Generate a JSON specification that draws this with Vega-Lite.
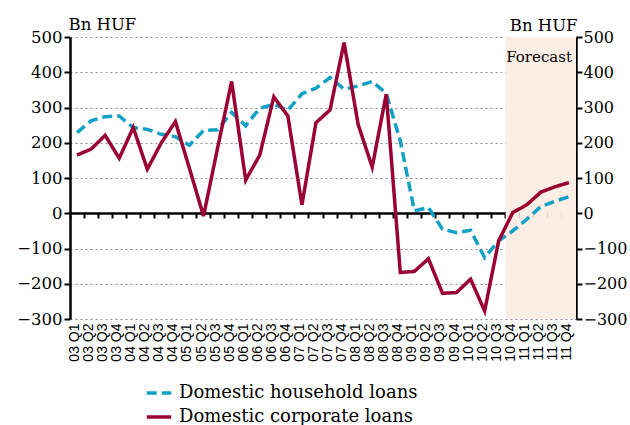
{
  "$schema": "https://vega.github.io/schema/vega-lite/v6.json",
  "width": 506,
  "height": 282,
  "autosize": {"type": "none"},
  "padding": {"left": 70, "top": 37, "right": 54, "bottom": 106},
  "background": "white",
  "config": {"view": {"stroke": null}, "font": "DejaVu Serif"},
  "datasets": {
    "loans": [
      {"q": "03 Q1", "Domestic household loans": 229, "Domestic corporate loans": 165},
      {"q": "03 Q2", "Domestic household loans": 262, "Domestic corporate loans": 182},
      {"q": "03 Q3", "Domestic household loans": 274, "Domestic corporate loans": 221},
      {"q": "03 Q4", "Domestic household loans": 276, "Domestic corporate loans": 156},
      {"q": "04 Q1", "Domestic household loans": 243, "Domestic corporate loans": 243},
      {"q": "04 Q2", "Domestic household loans": 238, "Domestic corporate loans": 125},
      {"q": "04 Q3", "Domestic household loans": 224, "Domestic corporate loans": 200},
      {"q": "04 Q4", "Domestic household loans": 217, "Domestic corporate loans": 260},
      {"q": "05 Q1", "Domestic household loans": 193, "Domestic corporate loans": 127},
      {"q": "05 Q2", "Domestic household loans": 235, "Domestic corporate loans": -8},
      {"q": "05 Q3", "Domestic household loans": 237, "Domestic corporate loans": 185},
      {"q": "05 Q4", "Domestic household loans": 286, "Domestic corporate loans": 374},
      {"q": "06 Q1", "Domestic household loans": 248, "Domestic corporate loans": 94},
      {"q": "06 Q2", "Domestic household loans": 298, "Domestic corporate loans": 165},
      {"q": "06 Q3", "Domestic household loans": 309, "Domestic corporate loans": 330},
      {"q": "06 Q4", "Domestic household loans": 292, "Domestic corporate loans": 276},
      {"q": "07 Q1", "Domestic household loans": 339, "Domestic corporate loans": 24},
      {"q": "07 Q2", "Domestic household loans": 355, "Domestic corporate loans": 257},
      {"q": "07 Q3", "Domestic household loans": 385, "Domestic corporate loans": 293},
      {"q": "07 Q4", "Domestic household loans": 352, "Domestic corporate loans": 484},
      {"q": "08 Q1", "Domestic household loans": 361, "Domestic corporate loans": 252},
      {"q": "08 Q2", "Domestic household loans": 374, "Domestic corporate loans": 131},
      {"q": "08 Q3", "Domestic household loans": 340, "Domestic corporate loans": 338},
      {"q": "08 Q4", "Domestic household loans": 205, "Domestic corporate loans": -168},
      {"q": "09 Q1", "Domestic household loans": 7, "Domestic corporate loans": -165},
      {"q": "09 Q2", "Domestic household loans": 16, "Domestic corporate loans": -129},
      {"q": "09 Q3", "Domestic household loans": -45, "Domestic corporate loans": -227},
      {"q": "09 Q4", "Domestic household loans": -55, "Domestic corporate loans": -225},
      {"q": "10 Q1", "Domestic household loans": -48, "Domestic corporate loans": -187},
      {"q": "10 Q2", "Domestic household loans": -126, "Domestic corporate loans": -277},
      {"q": "10 Q3", "Domestic household loans": -78, "Domestic corporate loans": -78},
      {"q": "10 Q4", "Domestic household loans": -50, "Domestic corporate loans": 2},
      {"q": "11 Q1", "Domestic household loans": -17, "Domestic corporate loans": 24},
      {"q": "11 Q2", "Domestic household loans": 19, "Domestic corporate loans": 60},
      {"q": "11 Q3", "Domestic household loans": 34, "Domestic corporate loans": 75},
      {"q": "11 Q4", "Domestic household loans": 47, "Domestic corporate loans": 87}
    ],
    "forecast": [
      {"q": "10 Q4"}, {"q": "11 Q1"}, {"q": "11 Q2"}, {"q": "11 Q3"}, {"q": "11 Q4"}
    ],
    "note": [
      {"q": "11 Q4", "label": "Forecast"}
    ]
  },
  "layer": [
    {
      "data": {"name": "forecast"},
      "mark": {"type": "bar", "fill": "#FCEEE4", "opacity": 1},
      "encoding": {
        "x": {
          "field": "q", "type": "ordinal",
          "scale": {
            "type": "band", "paddingInner": 0, "paddingOuter": 0,
            "domain": ["03 Q1","03 Q2","03 Q3","03 Q4","04 Q1","04 Q2","04 Q3","04 Q4","05 Q1","05 Q2","05 Q3","05 Q4","06 Q1","06 Q2","06 Q3","06 Q4","07 Q1","07 Q2","07 Q3","07 Q4","08 Q1","08 Q2","08 Q3","08 Q4","09 Q1","09 Q2","09 Q3","09 Q4","10 Q1","10 Q2","10 Q3","10 Q4","11 Q1","11 Q2","11 Q3","11 Q4"]
          },
          "axis": {
            "orient": "bottom", "title": null, "domain": false, "ticks": false, "grid": false,
            "labelAngle": 270, "labelAlign": "right", "labelBaseline": "middle",
            "labelFont": "Liberation Sans", "labelFontSize": 14, "labelColor": "black",
            "labelPadding": 4, "labelOffset": -2
          }
        },
        "y": {
          "datum": 500, "type": "quantitative",
          "scale": {"domain": [-300, 500], "nice": false, "zero": false},
          "axis": {
            "orient": "left", "values": [-300, -200, -100, 0, 100, 200, 300, 400, 500],
            "grid": true, "gridDash": [2, 3], "gridColor": "#8a8a8a", "gridWidth": 1.2,
            "domainColor": "black", "domainWidth": 2.5,
            "tickColor": "black", "tickWidth": 2, "tickSize": 6,
            "labelFont": "DejaVu Serif", "labelFontSize": 16.5, "labelColor": "black", "labelPadding": 2,
            "title": "Bn HUF", "titleAngle": 0, "titleAlign": "left", "titleBaseline": "alphabetic",
            "titleX": -2, "titleY": -8,
            "titleFont": "DejaVu Serif", "titleFontSize": 16.5, "titleFontWeight": "normal", "titleColor": "black"
          }
        },
        "y2": {"datum": -300}
      }
    },
    {
      "data": {"name": "loans"},
      "transform": [
        {"fold": ["Domestic household loans", "Domestic corporate loans"], "as": ["series", "value"]}
      ],
      "mark": {"type": "line", "strokeWidth": 3.5, "strokeJoin": "miter", "strokeCap": "butt"},
      "encoding": {
        "x": {
          "field": "q", "type": "ordinal",
          "axis": {
            "orient": "bottom", "offset": -106, "title": null, "labels": false, "grid": false,
            "domainColor": "black", "domainWidth": 2.5,
            "ticks": true, "tickColor": "black", "tickWidth": 2, "tickSize": 5, "bandPosition": 0
          }
        },
        "y": {
          "field": "value", "type": "quantitative",
          "axis": {
            "orient": "right", "values": [-300, -200, -100, 0, 100, 200, 300, 400, 500],
            "grid": false,
            "domainColor": "black", "domainWidth": 2.5,
            "tickColor": "black", "tickWidth": 2, "tickSize": 6,
            "labelFont": "DejaVu Serif", "labelFontSize": 16, "labelColor": "black", "labelPadding": 1,
            "title": "Bn HUF", "titleAngle": 0, "titleAlign": "right", "titleBaseline": "alphabetic",
            "titleX": 1, "titleY": -7,
            "titleFont": "DejaVu Serif", "titleFontSize": 16.5, "titleFontWeight": "normal", "titleColor": "black"
          }
        },
        "color": {
          "field": "series", "type": "nominal",
          "scale": {"domain": ["Domestic household loans", "Domestic corporate loans"], "range": ["#13A0C6", "#9A0032"]},
          "legend": {
            "title": null, "orient": "none", "legendX": 75, "legendY": 342, "direction": "vertical",
            "symbolType": "stroke", "symbolStrokeWidth": 3.5, "symbolSize": 600,
            "labelFont": "DejaVu Serif", "labelFontSize": 18, "labelColor": "black", "labelLimit": 500,
            "rowPadding": 1, "labelOffset": 6
          }
        },
        "strokeDash": {
          "field": "series", "type": "nominal",
          "scale": {"domain": ["Domestic household loans", "Domestic corporate loans"], "range": [[10, 5], [1, 0]]},
          "legend": {
            "title": null, "orient": "none", "legendX": 75, "legendY": 342, "direction": "vertical",
            "symbolType": "stroke", "symbolStrokeWidth": 3.5, "symbolSize": 600,
            "labelFont": "DejaVu Serif", "labelFontSize": 18, "labelColor": "black", "labelLimit": 500,
            "rowPadding": 1, "labelOffset": 6
          }
        }
      }
    },
    {
      "data": {"name": "note"},
      "mark": {"type": "text", "align": "right", "baseline": "alphabetic", "dx": -4, "dy": 25, "font": "DejaVu Serif", "fontSize": 15, "color": "black"},
      "encoding": {
        "x": {"field": "q", "type": "ordinal", "bandPosition": 1, "axis": null},
        "y": {"datum": 500, "type": "quantitative", "axis": null},
        "text": {"field": "label"}
      }
    }
  ],
  "resolve": {"axis": {"x": "independent", "y": "independent"}}
}
